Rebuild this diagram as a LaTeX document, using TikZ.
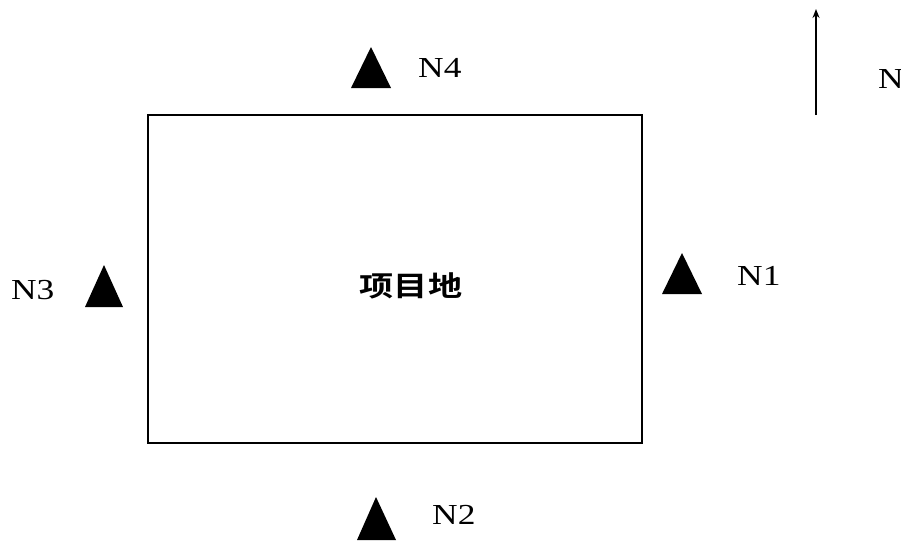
\documentclass[tikz,border=0pt]{standalone}
\usepackage{fontspec}
\setmainfont{Liberation Serif}
\newfontfamily\cjk{Noto Sans CJK SC Bold}
\usetikzlibrary{arrows.meta}
\tikzset{
  mark tri/.style={fill=black, draw=none, regular polygon sides=3},
  lbl/.style={inner sep=0pt, font=\fontsize{29}{30}\selectfont},
}
\newcommand{\wide}[1]{\scalebox{1.22}[1]{#1}}
\begin{document}
\begin{tikzpicture}[x=1pt,y=-1pt]
\useasboundingbox (0,0) rectangle (901,542);
\node[draw, line width=1.6pt, minimum width=494pt, minimum height=328pt, inner sep=0pt] (site) at (395,279) {};
\node[inner sep=0pt] (name) at (411,286) {\wide{\cjk\fontsize{28}{30}\selectfont 项目地}};
% triangles
\fill (351,88) -- (371,47) -- (391,88) -- cycle;
\fill (85,307) -- (104,265) -- (123,307) -- cycle;
\fill (662,294) -- (682,253) -- (702,294) -- cycle;
\fill (357,540) -- (376,497) -- (396,540) -- cycle;
\node[lbl, anchor=west] (n4) at (418,68) {\wide{N4}};
\node[lbl, anchor=west] (n3) at (11,290) {\wide{N3}};
\node[lbl, anchor=west] (n1) at (737,276) {\wide{N1}};
\node[lbl, anchor=west] (n2) at (432,515) {\wide{N2}};
\coordinate (a0) at (816,115);
\coordinate (a1) at (816,9);
\draw[line width=1.6pt, -{Stealth[length=9pt,width=7pt]}] (a0) -- (a1);
\node[lbl, anchor=west] (nn) at (878,79) {\wide{N}};
\end{tikzpicture}
\end{document}
